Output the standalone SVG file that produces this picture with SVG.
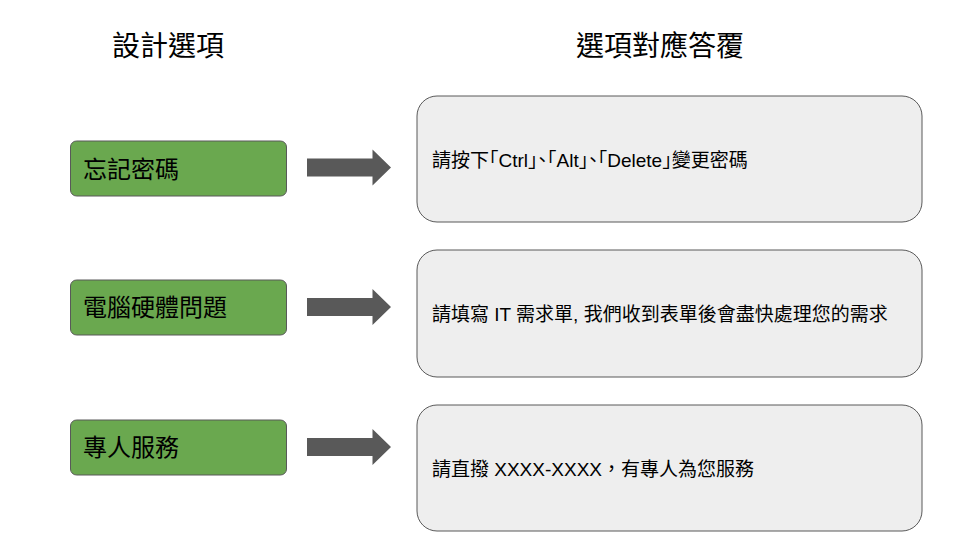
<svg xmlns="http://www.w3.org/2000/svg" width="960" height="540" viewBox="0 0 960 540">
<defs>
<style>
text{font-family:"Liberation Sans","Noto Sans CJK TC",sans-serif;fill:#000000;}
.head{font-size:28px;text-anchor:middle;}
.opt rect{fill:#6aa84f;stroke:#595959;stroke-width:1;}
.opt text{font-size:24px;}
.ans rect{fill:#eeeeee;stroke:#595959;stroke-width:1;}
.ans text{font-size:19px;}
.arrow{fill:#595959;}
</style>
</defs>
<rect width="960" height="540" fill="#ffffff"/>
<text class="head" x="168" y="56">設計選項</text>
<text class="head" x="660" y="56">選項對應答覆</text>

<g id="opt1" class="opt"><rect x="70.5" y="141" width="216" height="55" rx="6"/><text x="83" y="178">忘記密碼</text></g>
<g id="opt2" class="opt"><rect x="70.5" y="280" width="216" height="55" rx="6"/><text x="83" y="316">電腦硬體問題</text></g>
<g id="opt3" class="opt"><rect x="70.5" y="420" width="216" height="55" rx="6"/><text x="83" y="456">專人服務</text></g>

<g id="ans1" class="ans"><rect x="417" y="96" width="505" height="126" rx="20"/><text x="432" y="167" style="font-feature-settings:'halt'">請按下「Ctrl」、「Alt」、「Delete」變更密碼</text></g>
<g id="ans2" class="ans"><rect x="417" y="250" width="505" height="127" rx="20"/><text x="432" y="321">請填寫 IT 需求單, 我們收到表單後會盡快處理您的需求</text></g>
<g id="ans3" class="ans"><rect x="417" y="405" width="505" height="126" rx="20"/><text x="432" y="476">請直撥 XXXX-XXXX，有專人為您服務</text></g>

<g id="connectors">
<path class="arrow" d="M307,158.5 H372.5 V149.5 L391,167.5 L372.5,185.5 V176.5 H307 Z"/>
<path class="arrow" d="M307,298 H372.5 V289 L391,307 L372.5,325 V316 H307 Z"/>
<path class="arrow" d="M307,438 H372.5 V429 L391,447 L372.5,465 V456 H307 Z"/>
</g>
</svg>
